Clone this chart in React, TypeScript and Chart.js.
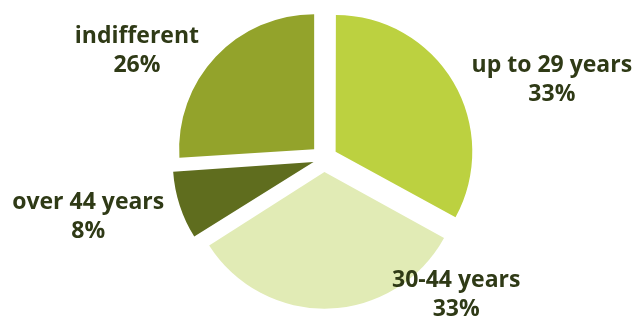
import React, { useEffect, useRef } from "react";
import { Chart, registerables } from "chart.js";

Chart.register(...registerables);

const categories = ["up to 29 years", "30-44 years", "over 44 years", "indifferent"];
const shares = [33, 33, 8, 26];
const percentLabels = ["33%", "33%", "8%", "26%"];
const sliceColors = ["#bcd140", "#e1ebb5", "#5f6d1e", "#93a32b"];
const sliceOffsets = [54, 54, 44, 54];

// label placement: angle (deg, clockwise from top) and distance in radii
const labelAngles = [71, 136, 256, 300];
const labelDistances = [1.785, 1.41, 1.8, 1.6];

const labelPlugin = {
  id: "outsideLabels",
  afterDatasetsDraw(chart: any) {
    const ctx = chart.ctx;
    const meta = chart.getDatasetMeta(0);
    ctx.save();
    ctx.fillStyle = "#2f3a16";
    ctx.font = "bold 23px 'Open Sans'";
    ctx.textAlign = "center";
    ctx.textBaseline = "middle";
    meta.data.forEach((arc: any, i: number) => {
      const { x, y, outerRadius } = arc.getProps(["x", "y", "outerRadius"], true);
      const a = ((labelAngles[i] - 90) * Math.PI) / 180;
      const d = labelDistances[i] * outerRadius;
      const lx = x + Math.cos(a) * d;
      const ly = y + Math.sin(a) * d;
      ctx.fillText(categories[i], lx, ly - 14.5);
      ctx.fillText(percentLabels[i], lx, ly + 14.5);
    });
    ctx.restore();
  },
};

export default function App() {
  const ref = useRef<HTMLCanvasElement | null>(null);
  useEffect(() => {
    if (!ref.current) return;
    const chart = new Chart(ref.current, {
      type: "pie",
      data: {
        labels: categories,
        datasets: [
          {
            data: shares,
            backgroundColor: sliceColors,
            borderWidth: 0,
            offset: sliceOffsets,
            radius: 135,
          } as any,
        ],
      },
      options: {
        responsive: false,
        animation: false,
        layout: { padding: { left: 12, bottom: 2 } },
        plugins: { legend: { display: false }, tooltip: { enabled: false } },
      },
      plugins: [labelPlugin],
    });
    return () => chart.destroy();
  }, []);
  return (
    <div style={{ position: "fixed", left: 0, top: 0, width: 636, height: 319, background: "#fff" }}>
      <canvas ref={ref} width={636} height={319} />
    </div>
  );
}
